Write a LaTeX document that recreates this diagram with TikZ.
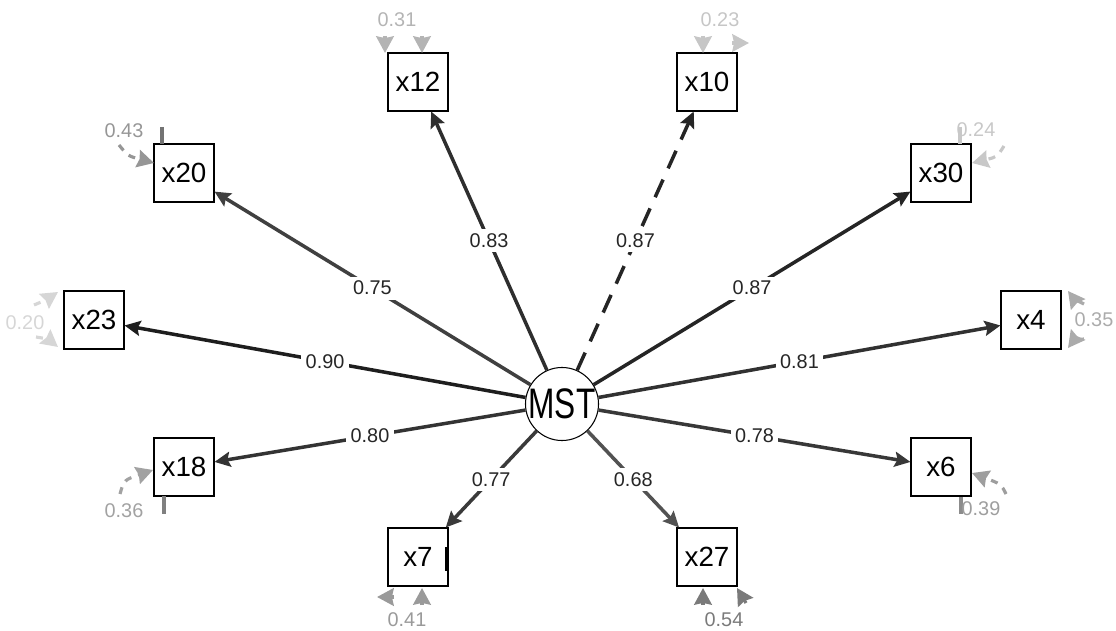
\documentclass[tikz,border=0pt]{standalone}
\usepackage{fontspec}
\setmainfont{Liberation Sans}
\usetikzlibrary{arrows.meta}

\definecolor{l90}{HTML}{1E1E1E}
\definecolor{l87}{HTML}{252525}
\definecolor{l83}{HTML}{2E2E2E}
\definecolor{l81}{HTML}{313131}
\definecolor{l80}{HTML}{333333}
\definecolor{l78}{HTML}{383838}
\definecolor{l77}{HTML}{3A3A3A}
\definecolor{l75}{HTML}{404040}
\definecolor{l68}{HTML}{525252}
\definecolor{r20}{HTML}{D6D6D6}
\definecolor{r23}{HTML}{C6C6C6}
\definecolor{r24}{HTML}{C8C8C8}
\definecolor{r31}{HTML}{B4B4B4}
\definecolor{r35}{HTML}{ABABAB}
\definecolor{r36}{HTML}{A2A2A2}
\definecolor{r39}{HTML}{9E9E9E}
\definecolor{r41}{HTML}{9A9A9A}
\definecolor{r43}{HTML}{969696}
\definecolor{r54}{HTML}{7A7A7A}

\begin{document}
\begin{tikzpicture}[x=0.02cm,y=-0.02cm,
  obs/.style={draw=black,line width=0.6pt,fill=white,minimum width=1.2cm,
    minimum height=1.16cm,inner sep=0pt,font=\fontsize{15.8}{17}\selectfont},
  lat/.style={circle,draw=black,line width=0.6pt,fill=white,minimum size=1.44cm,
    inner sep=0pt,font=\fontsize{18}{20}\selectfont},
  load/.style={line width=2pt,-{Stealth[length=9pt,width=8.5pt,inset=1.5pt]}},
  lab/.style={fill=white,inner sep=2.5pt,text=black!85,font=\fontsize{11.3}{12}\selectfont},
  res/.style={line width=1.8pt,-{Stealth[length=9.5pt,width=10pt,inset=1pt]}},
  resline/.style={line width=1.8pt},
  reslab/.style={font=\fontsize{11.3}{12}\selectfont},
  dashres/.style={dash pattern=on 4pt off 4pt}
]
\useasboundingbox (0,0) rectangle (1116,631);

% latent factor
\node[lat] (MST) at (562,404) {\scalebox{1}[1.35]{MST}};

% indicators
\node[obs] (x12) at (418,82)  {x12};
\node[obs] (x10) at (707,82)  {x10};
\node[obs] (x20) at (184,173) {x20};
\node[obs] (x30) at (941,173) {x30};
\node[obs] (x23) at (94,320)  {x23};
\node[obs] (x4)  at (1031,320){x4};
\node[obs] (x18) at (184,467) {x18};
\node[obs] (x6)  at (941,467) {x6};
\node[obs] (x7)  at (418,557) {x7};
\node[obs] (x27) at (707,557) {x27};

% factor loadings
\draw[load,l83] (MST) -- node[lab]{0.83} (x12);
\draw[load,l87,dash pattern=on 11pt off 7pt] (MST) -- node[lab]{0.87} (x10);
\draw[load,l75] (MST) -- node[lab]{0.75} (x20);
\draw[load,l87] (MST) -- node[lab]{0.87} (x30);
\draw[load,l90] (MST) -- node[lab]{0.90} (x23);
\draw[load,l81] (MST) -- node[lab]{0.81} (x4);
\draw[load,l80] (MST) -- node[lab]{0.80} (x18);
\draw[load,l78] (MST) -- node[lab]{0.78} (x6);
\draw[load,l77] (MST) -- node[lab]{0.77} (x7);
\draw[load,l68] (MST) -- node[lab]{0.68} (x27);

% residual variances
% x12
\draw[res,r31] (385,36) -- (385,53);
\draw[res,r31] (422,36) -- (422,53);
\node[reslab,text=r31] at (397,20) {0.31};
% x10
\draw[res,r23] (703,36) -- (703,53);
\draw[res,r23] (732,43) -- (749,43);
\node[reslab,text=r23] at (720,20) {0.23};
% x20
\draw[resline,black!55] (162,127) -- (162,144);
\draw[res,r43,dashres] (119,145) .. controls (128,156) .. (154,163);
\node[reslab,text=r43] at (124,131) {0.43};
% x30
\draw[resline,r24] (960,127) -- (960,144);
\draw[res,r24,dashres] (1004,146) .. controls (997,157) .. (972,163);
\node[reslab,text=r24] at (976,130) {0.24};
% x23
\draw[res,r20,dashres] (34,305) .. controls (46,300) .. (58,292);
\draw[res,r20,dashres] (36,337) .. controls (48,339) .. (58,347);
\node[reslab,text=r20] at (25,323) {0.20};
% x4
\draw[res,r35,dashres] (1084,304) .. controls (1074,299) .. (1068,291);
\draw[res,r35,dashres] (1084,339) .. controls (1074,340) .. (1068,348);
\node[reslab,text=r35] at (1094,320) {0.35};
% x18
\draw[resline,black!50] (164,496) -- (164,514);
\draw[res,r36,dashres] (120,494) .. controls (124,480) .. (153,470);
\node[reslab,text=r36] at (124,511) {0.36};
% x6
\draw[resline,black!45] (961,497) -- (961,514);
\draw[res,r39,dashres] (1006,494) .. controls (1001,484) .. (972,473);
\node[reslab,text=r39] at (981,509) {0.39};
% x7
\draw[line width=1.6pt,black] (446,547) -- (446,571);
\draw[res,r41] (394,597) -- (377,597);
\draw[res,r41] (422,605) -- (422,588);
\node[reslab,text=r41] at (407,620) {0.41};
% x27
\draw[res,r54] (703,605) -- (703,588);
\draw[res,r54] (746,603) -- (737,588);
\node[reslab,text=r54] at (724,620) {0.54};
\end{tikzpicture}
\end{document}
